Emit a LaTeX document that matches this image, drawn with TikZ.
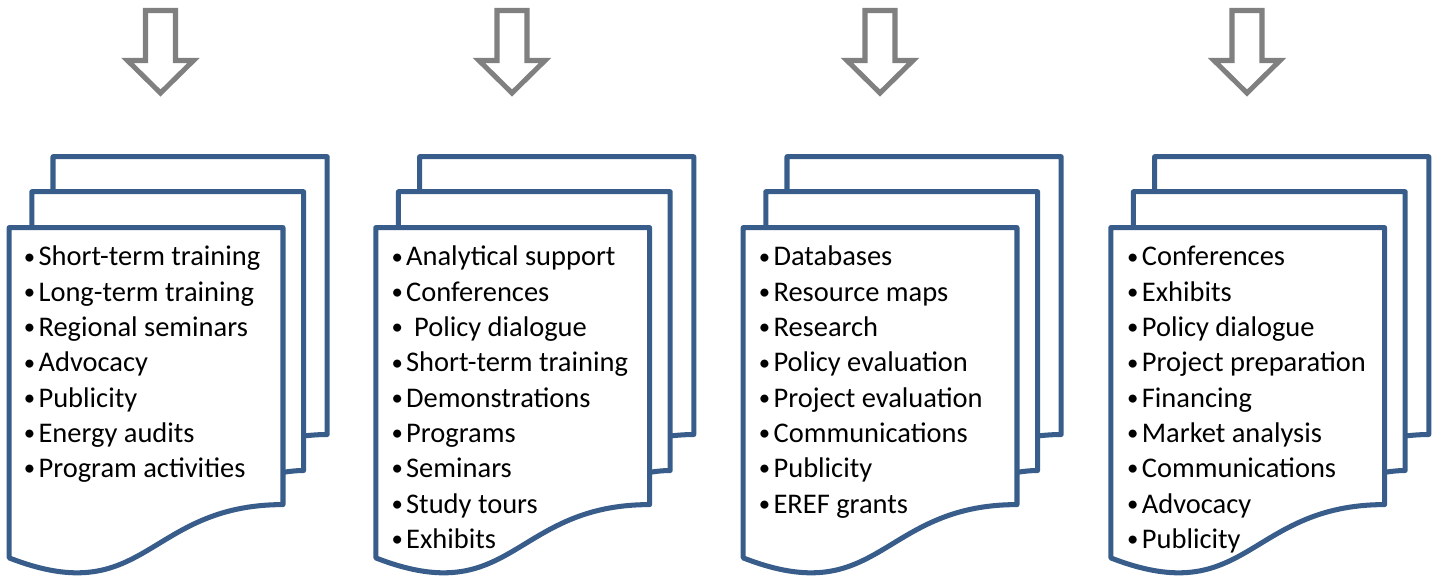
\documentclass[tikz,border=0pt]{standalone}
\usepackage{fontspec}
\setmainfont{Carlito}
\definecolor{docblue}{RGB}{56,93,138}
\definecolor{arrowgray}{RGB}{128,128,128}
\newcommand{\bul}{\makebox[12.5pt][l]{\raisebox{1.6pt}{\scalebox{0.8}{\textbullet}}}}

\begin{document}
\begin{tikzpicture}[x = 0.3mm, y = -0.3mm, % one unit is one pixel, y goes down
	line join = round,
	page/.style = {draw=docblue, line width=4.3pt},
	front/.style = {page, fill=white},
	down/.style = {draw=arrowgray, line width=4.3pt, line join=miter},
	item/.style = {anchor=base west, inner sep=0pt, font=\fontsize{24.3}{30}\selectfont}]
	\useasboundingbox (0,0) rectangle (1441,576);

	% hollow arrows
	\foreach \cx in {160.5, 512, 880, 1247}
		\draw[down] (\cx-15,10.5) -- (\cx+15,10.5) -- (\cx+15,60.5) -- (\cx+33,60.5)
			-- (\cx,93) -- (\cx-33,60.5) -- (\cx-15,60.5) -- cycle;

	% stacked pages
	\foreach \x in {9.2, 375.8, 743.2, 1110.8} {
	\begin{scope}[shift={(\x,156.7)}]
		\draw[page] (43.8,35) -- (43.8,0) -- (318,0) -- (318,277.8)
			.. controls (306.2,277.8) and (294.4,279.3) .. (294.4,279.3);
		\draw[page] (22.6,70.9) -- (22.6,35) -- (294.4,35) -- (294.4,313.8)
			.. controls (284.1,313.8) and (273.8,315.7) .. (273.8,315.7);
		\draw[front] (0,401.2) .. controls (136.9,454.5) and (136.9,347.9) .. (273.8,347.9)
			-- (273.8,70.9) -- (0,70.9) -- cycle;
	\end{scope}
	}

	% lists
	\foreach \lbl [count=\i] in {Short-term training, Long-term training, Regional seminars,
			Advocacy, Publicity, Energy audits, Program activities}
		\node[item] (a\i) at (23.7,{266+35.3*(\i-1)}) {\bul\lbl};
	\foreach \lbl [count=\i] in {Analytical support, Conferences, {\hspace{6.8pt}Policy dialogue},
			Short-term training, Demonstrations, Programs, Seminars, Study tours, Exhibits}
		\node[item] (b\i) at (391.3,{266+35.3*(\i-1)}) {\bul\lbl};
	\foreach \lbl [count=\i] in {Databases, Resource maps, Research, Policy evaluation,
			Project evaluation, Communications, Publicity, EREF grants}
		\node[item] (c\i) at (758.7,{266+35.3*(\i-1)}) {\bul\lbl};
	\foreach \lbl [count=\i] in {Conferences, Exhibits, Policy dialogue, Project preparation,
			Financing, Market analysis, Communications, Advocacy, Publicity}
		\node[item] (d\i) at (1127,{266+35.3*(\i-1)}) {\bul\lbl};

\end{tikzpicture}
\end{document}
